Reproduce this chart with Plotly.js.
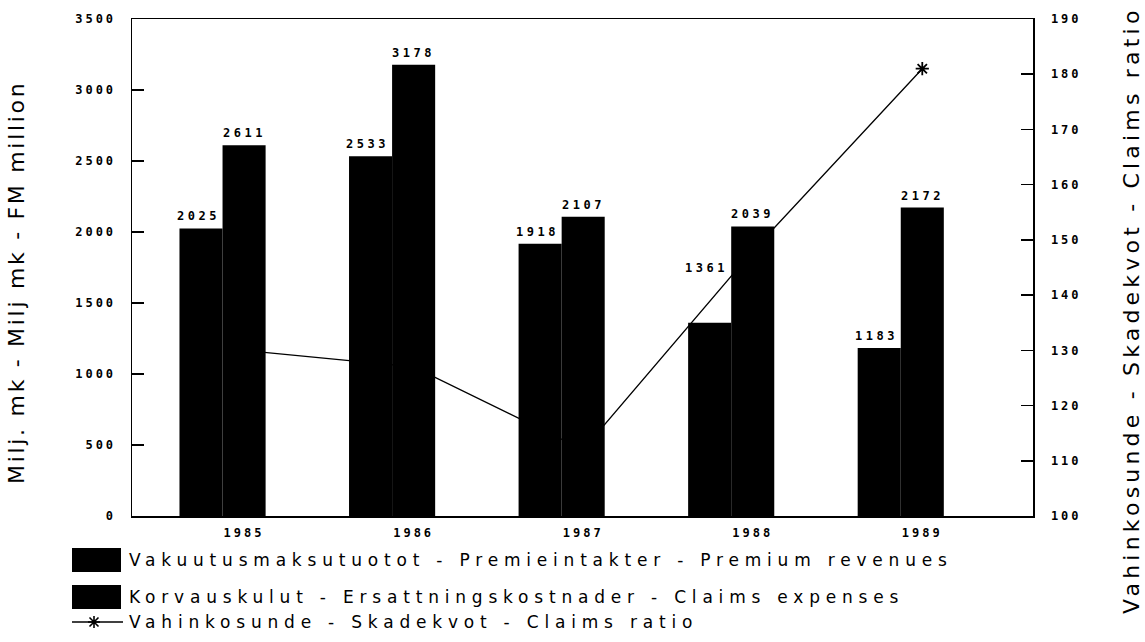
<!DOCTYPE html>
<html>
<head>
<meta charset="utf-8">
<script src="https://cdn.plot.ly/plotly-3.0.1.min.js"></script>
<style>
  html, body { margin: 0; padding: 0; background: #fff; }
  #chart { width: 1145px; height: 642px; }
  .ytick text, .y2tick text, .xtick text { letter-spacing: 3px; }
  text.annotation-text { letter-spacing: 3.5px; }
  text.annotation-text[data-unformatted*=" - "] { letter-spacing: 5.8px; }
  text.annotation-text[data-unformatted^="Milj"][style*="font-size: 22px"] { letter-spacing: 2.7px; }
  text.annotation-text[data-unformatted^="Vahin"][style*="font-size: 22px"] { letter-spacing: 4.2px; }
</style>
</head>
<body>
<div id="chart"></div>
<script>
// ---- data ----
const years = ['1985', '1986', '1987', '1988', '1989'];
const premiums = [2025, 2533, 1918, 1361, 1183];
const claims = [2611, 3178, 2107, 2039, 2172];
const claimsRatio = [130, 127, 112, 148, 181];
const seriesNames = [
  'Vakuutusmaksutuotot - Premieintakter - Premium revenues',
  'Korvauskulut - Ersattningskostnader - Claims expenses',
  'Vahinkosunde - Skadekvot - Claims ratio'
];
const leftTitle = 'Milj. mk - Milj mk - FM million';
const rightTitle = 'Vahinkosunde - Skadekvot - Claims ratio';

// ---- geometry / style ----
const W = 1145, H = 642;
const plotL = 132, plotR = 1033, plotT = 19, plotB = 516;
const pw = plotR - plotL, ph = plotB - plotT;
const barW = 0.254;
const idx = years.map((_, i) => i);
const digitFont = { family: 'DejaVu Sans Mono, monospace', size: 12, color: '#000', weight: 'bold' };
const titleFont = { family: 'DejaVu Sans, sans-serif', size: 22, color: '#000' };
const legendFont = { family: 'DejaVu Sans, sans-serif', size: 17, color: '#000' };
const px2x = p => (p - plotL) / pw;
const px2y = p => (plotB - p) / ph;

const traces = [
  { type: 'bar', x: idx, y: premiums, offset: -barW, width: barW, name: seriesNames[0],
    marker: { color: '#000', line: { width: 0 } }, hoverinfo: 'y' },
  { type: 'bar', x: idx, y: claims, offset: 0, width: barW, name: seriesNames[1],
    marker: { color: '#000', line: { width: 0 } }, hoverinfo: 'y' },
  { type: 'scatter', mode: 'lines+markers', x: idx.map(i => i + barW / 2), y: claimsRatio,
    yaxis: 'y2', name: seriesNames[2],
    line: { color: '#000', width: 1.3 },
    marker: { symbol: 'asterisk-open', size: 11, color: '#000', line: { color: '#000', width: 1.8 } } }
];

const annotations = [];
const extraLift = { 3: 43 };
premiums.forEach((v, i) => annotations.push({
  x: i - barW / 2, y: v, xref: 'x', yref: 'y', text: String(v), showarrow: false,
  yanchor: 'bottom', yshift: 3 + (extraLift[i] || 0), xshift: -3, font: digitFont
}));
claims.forEach((v, i) => annotations.push({
  x: i + barW / 2, y: v, xref: 'x', yref: 'y', text: String(v), showarrow: false,
  yanchor: 'bottom', yshift: 3, xshift: 0, font: digitFont
}));

// axis titles (placed as rotated text)
annotations.push({ xref: 'paper', yref: 'paper', x: px2x(17), y: px2y(283),
  text: leftTitle, textangle: -90, showarrow: false, xanchor: 'center', yanchor: 'middle', font: titleFont });
annotations.push({ xref: 'paper', yref: 'paper', x: px2x(1131), y: px2y(310),
  text: rightTitle, textangle: -90, showarrow: false, xanchor: 'center', yanchor: 'middle', font: titleFont });

// custom legend
const legendRows = [560, 597, 622];
const shapes = [];
[0, 1].forEach(k => {
  shapes.push({ type: 'rect', xref: 'paper', yref: 'paper',
    x0: px2x(72), x1: px2x(121), y0: px2y(legendRows[k] + 12), y1: px2y(legendRows[k] - 12),
    fillcolor: '#000', line: { width: 0 } });
});
shapes.push({ type: 'line', xref: 'paper', yref: 'paper',
  x0: px2x(72), x1: px2x(123), y0: px2y(legendRows[2]), y1: px2y(legendRows[2]),
  line: { color: '#000', width: 1.5 } });
shapes.push({ type: 'path', xref: 'paper', yref: 'paper',
  xsizemode: 'pixel', ysizemode: 'pixel', xanchor: px2x(94), yanchor: px2y(legendRows[2]),
  path: 'M-6,0L6,0M0,-6L0,6M-4.5,-4.5L4.5,4.5M-4.5,4.5L4.5,-4.5',
  line: { color: '#000', width: 1.6 } });
seriesNames.forEach((n, k) => annotations.push({
  xref: 'paper', yref: 'paper', x: px2x(127), y: px2y(legendRows[k]),
  xanchor: 'left', yanchor: 'middle', text: n, showarrow: false, font: legendFont
}));

const layout = {
  width: W, height: H,
  margin: { l: plotL, r: W - plotR, t: plotT, b: H - plotB },
  paper_bgcolor: '#fff', plot_bgcolor: '#fff',
  showlegend: false,
  barmode: 'overlay',
  xaxis: {
    range: [-0.534, 4.78], tickmode: 'array', tickvals: idx.map(i => i + barW / 2), ticktext: years,
    ticks: '', showgrid: false, zeroline: false,
    showline: true, mirror: true, linecolor: '#000', linewidth: 1.5,
    tickfont: digitFont, ticklabelstandoff: 5
  },
  yaxis: {
    range: [0, 3500], dtick: 500, tick0: 0, ticks: 'inside', ticklen: 12, tickwidth: 1.5, tickcolor: '#000',
    showgrid: false, zeroline: false, showline: true, linecolor: '#000', linewidth: 1.5,
    tickfont: digitFont, ticklabelstandoff: 12
  },
  yaxis2: {
    overlaying: 'y', side: 'right', range: [100, 190], dtick: 10, tick0: 100,
    ticks: 'inside', ticklen: 12, tickwidth: 1.5, tickcolor: '#000',
    showgrid: false, zeroline: false, showline: true, linecolor: '#000', linewidth: 1.5,
    tickfont: digitFont, ticklabelstandoff: 14
  },
  annotations: annotations,
  shapes: shapes
};

Plotly.newPlot('chart', traces, layout, { displayModeBar: false, staticPlot: true });
</script>
</body>
</html>
